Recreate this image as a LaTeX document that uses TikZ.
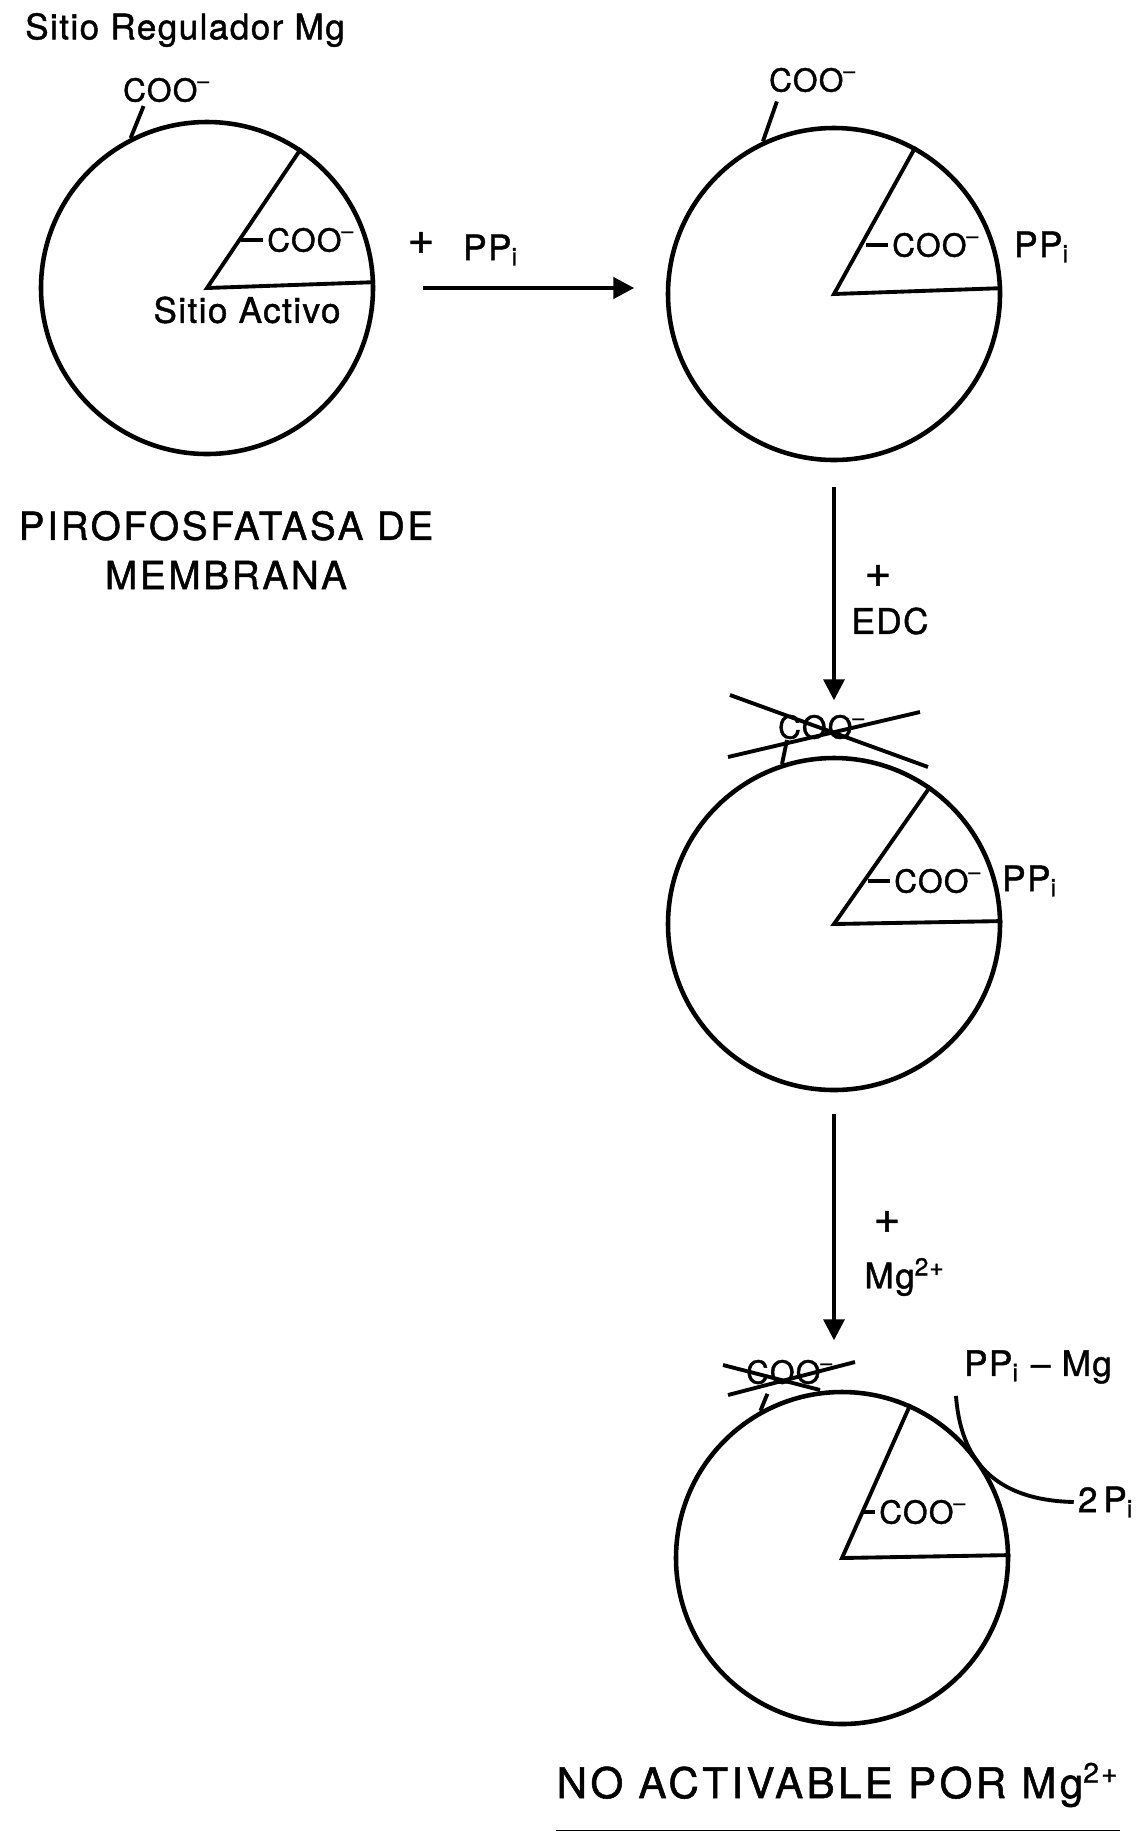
\documentclass[tikz,border=0pt]{standalone}
\usepackage{fontspec}
\setmainfont{TeX Gyre Heros}[LetterSpace=4,FakeBold=1.2]
\usetikzlibrary{arrows.meta,positioning}
\newcommand{\coo}{COO\textsuperscript{--}}
\newcommand{\ppi}{PP\textsubscript{i}}

\begin{document}
\begin{tikzpicture}[x=0.1mm,y=-0.1mm,
	enzyme/.style={draw,circle,line width=1.3pt,minimum size=33.2mm,inner sep=0pt},
	site/.style={line width=1.1pt},
	tag/.style={font=\fontsize{10}{11}\selectfont,inner sep=1pt},
	grp/.style={font=\fontsize{9}{10}\selectfont,inner sep=1pt},
	plus/.style={font=\fontsize{13}{13}\selectfont,inner sep=0pt},
	big/.style={font=\fontsize{11}{14}\selectfont\addfontfeature{LetterSpace=7},align=center,inner sep=0pt},
	rxn/.style={-{Triangle[length=2.1mm,width=2.1mm]},line width=1pt}]
\useasboundingbox (0,0) rectangle (1148,1831);

\node[tag] (t0) at (185,30) {Sitio Regulador Mg};
\node[enzyme] (c1) at (207,288) {};
\node[grp] (r1) at (167,90) {\coo};
\node[grp,anchor=west] (s1) at (263,240) {\coo};
\node[tag] (a1) at (247,310) {Sitio Activo};
\node[big] (n1) at (226,550) {PIROFOSFATASA DE\\MEMBRANA};

\node[enzyme] (c2) at (834,294) {};
\node[grp] (r2) at (813,80) {\coo};
\node[grp,anchor=west] (s2) at (888,245) {\coo};
\node[tag] (p2) at (1042,247) {\ppi};
\node[plus] (pl) at (421,243) {+};
\node[tag] (pp) at (491,250) {\ppi};

\node[plus] (e1) at (878,576) {+};
\node[tag] (e2) at (890,621) {EDC};

\node[enzyme] (c3) at (834,924) {};
\node[grp] (x3) at (822,727) {\coo};
\node[grp,anchor=west] (s3) at (890,881) {\coo};
\node[tag] (p3) at (1030,881) {\ppi};

\node[plus] (g1) at (887,1222) {+};
\node[tag] (g2) at (905,1277) {Mg\textsuperscript{2+}};

\node[enzyme] (c4) at (842,1558) {};
\node[grp] (x4) at (790,1372) {\coo};
\node[grp,anchor=west] (s4) at (875,1512) {\coo};
\node[tag] (m4) at (1038,1367) {\ppi{} -- Mg};
\node[tag] (q4) at (1106,1502) {2\,P\textsubscript{i}};
\node[big,font=\fontsize{12}{14}\selectfont\addfontfeature{LetterSpace=8}] (nb) at (838,1785) {NO ACTIVABLE POR Mg\textsuperscript{2+}};

\draw[site] (c1.56) -- (c1.center) -- (c1.2);
\draw[site] (c2.61) -- (c2.center) -- (c2.2);
\draw[site] (c3.55) -- (c3.center) -- (c3.1);
\draw[site] (c4.66) -- (c4.center) -- (c4.1);

\draw[site] (s1.west) -- ++(-22,0);
\draw[site] (s2.west) -- ++(-22,0);
\draw[site] (s3.west) -- ++(-22,0);
\draw[site] (s4.west) -- ++(-12,0);

\draw[site] (c1.117) -- ++(13,-32);
\draw[site] (c2.115) -- ++(14,-40);
\draw[site] (c3.108) -- ++(5,-24);
\draw[site] (c4.119) -- ++(7,-17);

\draw[site] ([shift={(-92,-32)}]x3.center) -- ([shift={(106,40)}]x3.center);
\draw[site] ([shift={(-94,30)}]x3.center) -- ([shift={(98,-15)}]x3.center);
\draw[site] ([shift={(-67,-7)}]x4.center) -- ([shift={(30,18)}]x4.center);
\draw[site] ([shift={(-62,23)}]x4.center) -- ([shift={(65,-10)}]x4.center);

\draw[rxn,line width=1.3pt] ([xshift=4.8mm]c1.east) -- ([xshift=25.9mm]c1.east);
\draw[rxn] ([yshift=-2.5mm]c2.south) -- ([yshift=-23.8mm]c2.south);
\draw[rxn] ([yshift=-2.2mm]c3.south) -- ([yshift=-24.8mm]c3.south);

\draw[site] ([shift={(-4,8)}]m4.south west) .. controls (960,1450) and (985,1500) .. (q4.west);
\draw[line width=1pt] ([yshift=-2.4mm]nb.south west) -- ([yshift=-2.4mm]nb.south east);
\end{tikzpicture}
\end{document}
